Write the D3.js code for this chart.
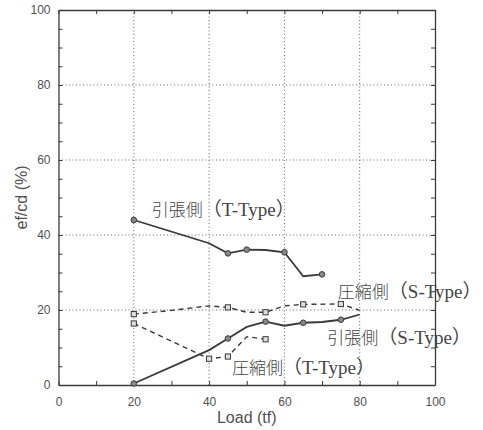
<!DOCTYPE html>
<html><head><meta charset="utf-8">
<script src="https://cdn.jsdelivr.net/npm/d3@7"></script>
<style>body{margin:0;background:#fff}</style>
</head><body>
<svg id="c" width="483" height="430"></svg>
<script>
// Data
const tTension = {x:[20,40,45,50,55,60,65,70], y:[44,37.8,35.1,36.1,36,35.4,29,29.5], mark:[1,0,1,1,0,1,0,1]};
const sTension = {x:[20,40,45,50,55,60,65,70,75,80], y:[0.4,9.3,12.4,15.5,16.9,15.8,16.6,16.8,17.4,18.8], mark:[1,0,1,0,1,0,1,0,1,0]};
const sCompression = {x:[20,30,40,45,50,55,60,65,75,80], y:[18.9,19.9,21.1,20.7,19.4,19.4,21.1,21.5,21.6,19.9], mark:[1,0,0,1,0,1,0,1,1,0]};
const tCompression = {x:[20,40,45,50,55], y:[16.4,7,7.6,12.9,12.2], mark:[1,1,1,0,1]};
const labels = [
  {jp:"引張側", en:"（T-Type）", x:24.8, y:45},
  {jp:"圧縮側", en:"（S-Type）", x:74.2, y:23.2},
  {jp:"引張側", en:"（S-Type）", x:71.4, y:10.9},
  {jp:"圧縮側", en:"（T-Type）", x:46.1, y:2.9}
];
const xTicks = [0,20,40,60,80,100];
const yTicks = [0,20,40,60,80,100];

const svg = d3.select("#c");
const m = {l:58.5, r:48, t:10, b:45};
const W = 483, H = 430;
const x = d3.scaleLinear().domain([0,100]).range([m.l, W-m.r]);
const y = d3.scaleLinear().domain([0,100]).range([H-m.b, m.t]);
const ink = "#3a3a3a", txt = "#505050";

// grid
const g = svg.append("g");
g.selectAll("line.gx").data([20,40,60,80]).join("line")
  .attr("x1",d=>x(d)).attr("x2",d=>x(d)).attr("y1",y(0)).attr("y2",y(100))
  .attr("stroke","#666").attr("stroke-width",1).attr("stroke-dasharray","1,2.5");
g.selectAll("line.gy").data([20,40,60,80]).join("line")
  .attr("y1",d=>y(d)).attr("y2",d=>y(d)).attr("x1",x(0)).attr("x2",x(100))
  .attr("stroke","#666").attr("stroke-width",1).attr("stroke-dasharray","1,2.5");

// axes
const fmtX = d => (xTicks.includes(d) ? d : "");
const fmtY = d => (yTicks.includes(d) ? d : "");
svg.append("g").attr("transform",`translate(0,${y(0)})`)
  .call(d3.axisBottom(x).tickValues(d3.range(0,101,10)).tickSizeInner(-4).tickSizeOuter(0).tickPadding(12).tickFormat(fmtX));
svg.append("g").attr("transform",`translate(${x(0)},0)`)
  .call(d3.axisLeft(y).tickValues(d3.range(0,101,5)).tickSizeInner(-4).tickSizeOuter(0).tickPadding(8).tickFormat(fmtY));
svg.append("g").attr("transform",`translate(0,${y(100)})`)
  .call(d3.axisTop(x).tickValues(d3.range(0,101,10)).tickSizeInner(-4).tickSizeOuter(0).tickFormat(""));
svg.append("g").attr("transform",`translate(${x(100)},0)`)
  .call(d3.axisRight(y).tickValues(d3.range(0,101,5)).tickSizeInner(-4).tickSizeOuter(0).tickFormat(""));
svg.selectAll(".domain").attr("stroke",ink).attr("stroke-width",1.3);
svg.selectAll(".tick line").attr("stroke",ink);
svg.selectAll(".tick text").attr("fill",txt).attr("font-family","Liberation Sans, Arial, sans-serif").attr("font-size",12);

svg.append("text").attr("x",(x(0)+x(100))/2).attr("y",423).attr("text-anchor","middle")
  .attr("font-family","Liberation Sans, Arial, sans-serif").attr("font-size",16).attr("fill",txt).text("Load (tf)");
svg.append("text").attr("transform",`translate(27,${(y(0)+y(100))/2}) rotate(-90)`).attr("text-anchor","middle")
  .attr("font-family","Liberation Sans, Arial, sans-serif").attr("font-size",16).attr("fill",txt).text("ef/cd (%)");

// series
const line = d3.line().x(d=>x(d[0])).y(d=>y(d[1]));
function draw(s, dashed, shape){
  const pts = s.x.map((v,i)=>[v,s.y[i],s.mark[i]]);
  svg.append("path").attr("d",line(pts)).attr("fill","none").attr("stroke",ink)
    .attr("stroke-width",dashed?1.4:1.8).attr("stroke-dasharray",dashed?"5,4":null);
  const mk = pts.filter(p=>p[2]);
  if(shape==="circle"){
    svg.selectAll(null).data(mk).join("circle").attr("cx",d=>x(d[0])).attr("cy",d=>y(d[1])).attr("r",2.8)
      .attr("fill","#888").attr("stroke",ink).attr("stroke-width",1);
  } else {
    svg.selectAll(null).data(mk).join("rect").attr("x",d=>x(d[0])-2.6).attr("y",d=>y(d[1])-2.6)
      .attr("width",5.2).attr("height",5.2).attr("fill","#ddd").attr("stroke",ink).attr("stroke-width",1);
  }
}
draw(tTension,false,"circle");
draw(sTension,false,"circle");
draw(sCompression,true,"square");
draw(tCompression,true,"square");

const lt = svg.selectAll(null).data(labels).join("text").attr("x",d=>x(d.x)).attr("y",d=>y(d.y))
  .attr("font-family","Liberation Serif, Noto Sans CJK JP, serif").attr("fill","#444");
lt.append("tspan").attr("font-size",17).attr("font-family","Noto Sans CJK JP").attr("font-weight",300).text(d=>d.jp);
lt.append("tspan").attr("font-size",19).text(d=>d.en);
</script>
</body></html>
